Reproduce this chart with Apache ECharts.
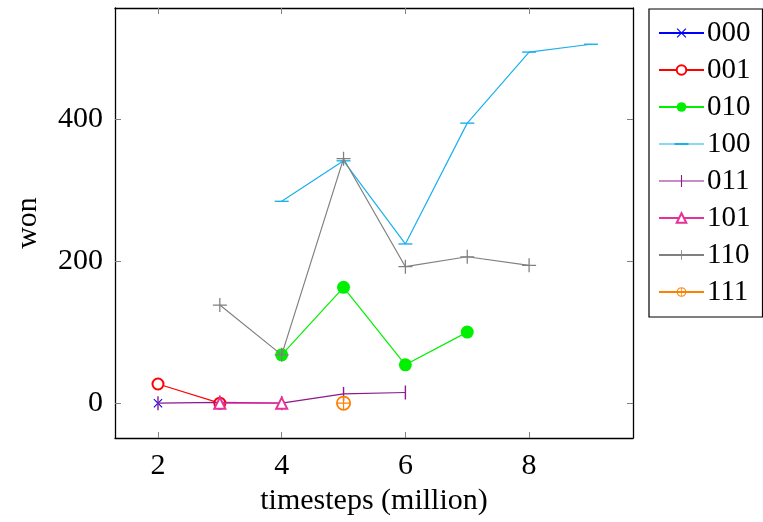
<!DOCTYPE html>
<html>
<head>
<meta charset="utf-8">
<script src="https://cdn.jsdelivr.net/npm/echarts@6/dist/echarts.min.js"></script>
<style>html,body{margin:0;padding:0;background:#fff}#c{width:763px;height:522px}</style>
</head>
<body>
<div id="c"></div>
<script>
// ---- data ----
const seriesNames = ['000', '001', '010', '100', '011', '101', '110', '111'];
const s000 = [[2, 0]];
const s001 = [[2, 27], [3, 0]];
const s010 = [[4, 68], [5, 163], [6, 54], [7, 100]];
const s100 = [[4, 284], [5, 341], [6, 224], [7, 394], [8, 494], [9, 505]];
const s011 = [[2, 0], [3, 1], [4, 0], [5, 13], [6, 15]];
const s101 = [[3, 0], [4, 0]];
const s110 = [[3, 138], [4, 68], [5, 344], [6, 192], [7, 206], [8, 194]];
const s111 = [[5, 0]];
const xTicks = [2, 4, 6, 8];
const yTicks = [0, 200, 400];
const xName = 'timesteps (million)';
const yName = 'won';

// ---- styles ----
const FONT = 'Liberation Serif';
const xMark = 'path://M0,0.85 L0.85,0 L10,9.15 L9.15,10 Z M9.15,0 L10,0.85 L0.85,10 L0,9.15 Z';
const plusMark = 'path://M4.55,0 H5.45 V10 H4.55 Z M0,4.55 H10 V5.45 H0 Z';
const oplusMark = 'path://M0,10 A10,10 0 1,1 20,10 A10,10 0 1,1 0,10 Z M2.3,10 A7.7,7.7 0 1,0 17.7,10 A7.7,7.7 0 1,0 2.3,10 Z M9.25,0 H10.75 V20 H9.25 Z M0,9.25 H20 V10.75 H0 Z';
// legend icons drawn in a 45 x 12 box (line + marker)
const dashIcon = 'path://M0,5.45 H45 V6.55 H0 Z M15.5,5.1 H29.5 V6.9 H15.5 Z';
const barIcon = 'path://M0,5.45 H45 V6.55 H0 Z M21.95,0 H23.05 V12 H21.95 Z';

const styles = [
  { data: s000, color: '#0000ff', symbol: xMark, size: 9, bw: 0 },
  { data: s001, color: '#ff0000', symbol: 'emptyCircle', size: 11, bw: 1.2 },
  { data: s010, color: '#00f000', symbol: 'circle', size: 13, bw: 0 },
  { data: s100, color: '#1ab0ee', symbol: 'rect', size: [14, 1.4], bw: 0, icon: dashIcon },
  { data: s011, color: '#8b1a8b', symbol: 'rect', size: [1.4, 14], bw: 0, icon: barIcon },
  { data: s101, color: '#e6309a', symbol: 'emptyTriangle', size: 11, bw: 1.2 },
  { data: s110, color: '#808080', symbol: plusMark, size: 14, bw: 0 },
  { data: s111, color: '#ff8000', symbol: oplusMark, size: 15, bw: 0 }
];

const series = styles.map((s, i) => ({
  name: seriesNames[i],
  type: 'line',
  data: s.data,
  symbol: s.symbol,
  symbolSize: s.size,
  symbolKeepAspect: false,
  showAllSymbol: true,
  animation: false,
  lineStyle: { color: s.color, width: 1.2 },
  itemStyle: { color: s.color, borderColor: s.color, borderWidth: s.bw },
  emphasis: { disabled: true },
  z: 2 + i
}));

const legendData = seriesNames.map((n, i) => styles[i].icon ? { name: n, icon: styles[i].icon } : { name: n });

const axisLine = { show: true, onZero: false, lineStyle: { color: '#000', width: 1.3 } };
const tick = (vals) => ({ show: true, inside: true, length: 6, customValues: vals, lineStyle: { color: '#808080', width: 1 } });
const xMin = 1.305, xMax = 9.68, yMin = -49, yMax = 556;

const option = {
  backgroundColor: '#fff',
  animation: false,
  grid: { left: 115, top: 8, width: 518, height: 430, outerBoundsMode: 'none', containLabel: false },
  legend: {
    orient: 'vertical',
    left: 649,
    top: 9,
    padding: [9, 12, 10, 9],
    itemGap: 7,
    itemWidth: 45,
    itemHeight: 12,
    symbolKeepAspect: true,
    borderColor: '#000',
    borderWidth: 1.2,
    textStyle: { fontFamily: FONT, fontSize: 29, color: '#000', lineHeight: 30, padding: [0, 0, 0, -2] },
    data: legendData
  },
  xAxis: [
    {
      type: 'value', min: xMin, max: xMax, position: 'bottom',
      axisLine: axisLine, axisTick: tick(xTicks),
      axisLabel: { customValues: xTicks, fontFamily: FONT, fontSize: 30, color: '#000', margin: 13 },
      splitLine: { show: false },
      name: xName, nameLocation: 'middle', nameGap: 44,
      nameTextStyle: { fontFamily: FONT, fontSize: 30, color: '#000' }
    },
    {
      type: 'value', min: xMin, max: xMax, position: 'top',
      axisLine: axisLine, axisTick: tick(xTicks),
      axisLabel: { show: false }, splitLine: { show: false }
    }
  ],
  yAxis: [
    {
      type: 'value', min: yMin, max: yMax, position: 'left',
      axisLine: axisLine, axisTick: tick(yTicks),
      axisLabel: { customValues: yTicks, fontFamily: FONT, fontSize: 30, color: '#000', margin: 12 },
      splitLine: { show: false },
      name: yName, nameLocation: 'middle', nameGap: 72, nameRotate: 90,
      nameTextStyle: { fontFamily: FONT, fontSize: 30, color: '#000' }
    },
    {
      type: 'value', min: yMin, max: yMax, position: 'right',
      axisLine: axisLine, axisTick: tick(yTicks),
      axisLabel: { show: false }, splitLine: { show: false }
    }
  ],
  series: series
};

const chart = echarts.init(document.getElementById('c'), null, { renderer: 'canvas' });
chart.setOption(option);
</script>
</body>
</html>
